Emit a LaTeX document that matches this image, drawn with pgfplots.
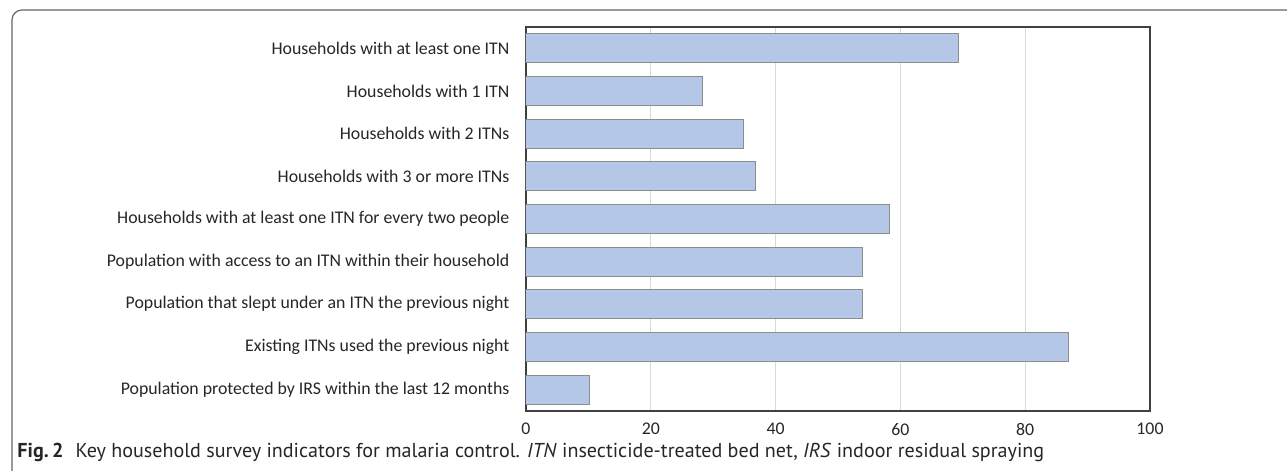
\documentclass[border=0pt]{standalone}
\usepackage{fontspec}
\setmainfont{Carlito}
\newfontfamily\capfont{PT Sans}
\usepackage{pgfplots}
\pgfplotsset{compat=1.18}
\definecolor{barfill}{HTML}{B4C7E7}
\definecolor{baredge}{HTML}{8C8C8C}
\definecolor{gridc}{HTML}{D9D9D9}
\definecolor{axc}{HTML}{404040}
\begin{document}
\begin{tikzpicture}
\path[use as bounding box] (0pt,0pt) rectangle (643.5pt,235.5pt);
\draw[color=black!60, line width=0.6pt, rounded corners=5pt] (6pt,-1pt) -- (6pt,230.5pt) -- (645pt,230.5pt);
\begin{axis}[
  at={(263pt,30pt)}, anchor=south west,
  scale only axis, width=312pt, height=192pt,
  xmin=0, xmax=100, ymin=-0.5, ymax=8.5, y dir=reverse,
  xbar, bar width=14.65pt,
  ytick={0,...,8},
  yticklabels={
    Households with at least one ITN,
    Households with 1 ITN,
    Households with 2 ITNs,
    Households with 3 or more ITNs,
    Households with at least one ITN for every two people,
    Population with access to an ITN within their household,
    Population that slept under an ITN the previous night,
    Existing ITNs used the previous night,
    Population protected by IRS within the last 12 months},
  xtick={0,20,...,100},
  xmajorgrids, grid style={gridc, line width=0.6pt},
  axis line style={axc, line width=0.7pt},
  tick style={draw=none},
  ticklabel style={font=\fontsize{8.9}{10}\selectfont, text=black!85},
  xticklabel style={yshift=-2.5pt},
  yticklabel style={xshift=-0.5pt},
  /pgf/number format/assume math mode=true,
]
\addplot[fill=barfill, draw=baredge, line width=0.5pt] coordinates {
  (69.3,0) (28.3,1) (34.9,2) (36.8,3) (58.3,4) (53.9,5) (53.9,6) (87.0,7) (10.2,8)};
\end{axis}
\node[anchor=west, font=\capfont\fontsize{10.05}{12}\selectfont, text=black!85, inner sep=0pt] at (8.5pt,9.5pt)
  {\textbf{Fig.\,2}\hspace{0.6em}Key household survey indicators for malaria control. \textit{ITN} insecticide-treated bed net, \textit{IRS} indoor residual spraying};
\end{tikzpicture}
\end{document}
